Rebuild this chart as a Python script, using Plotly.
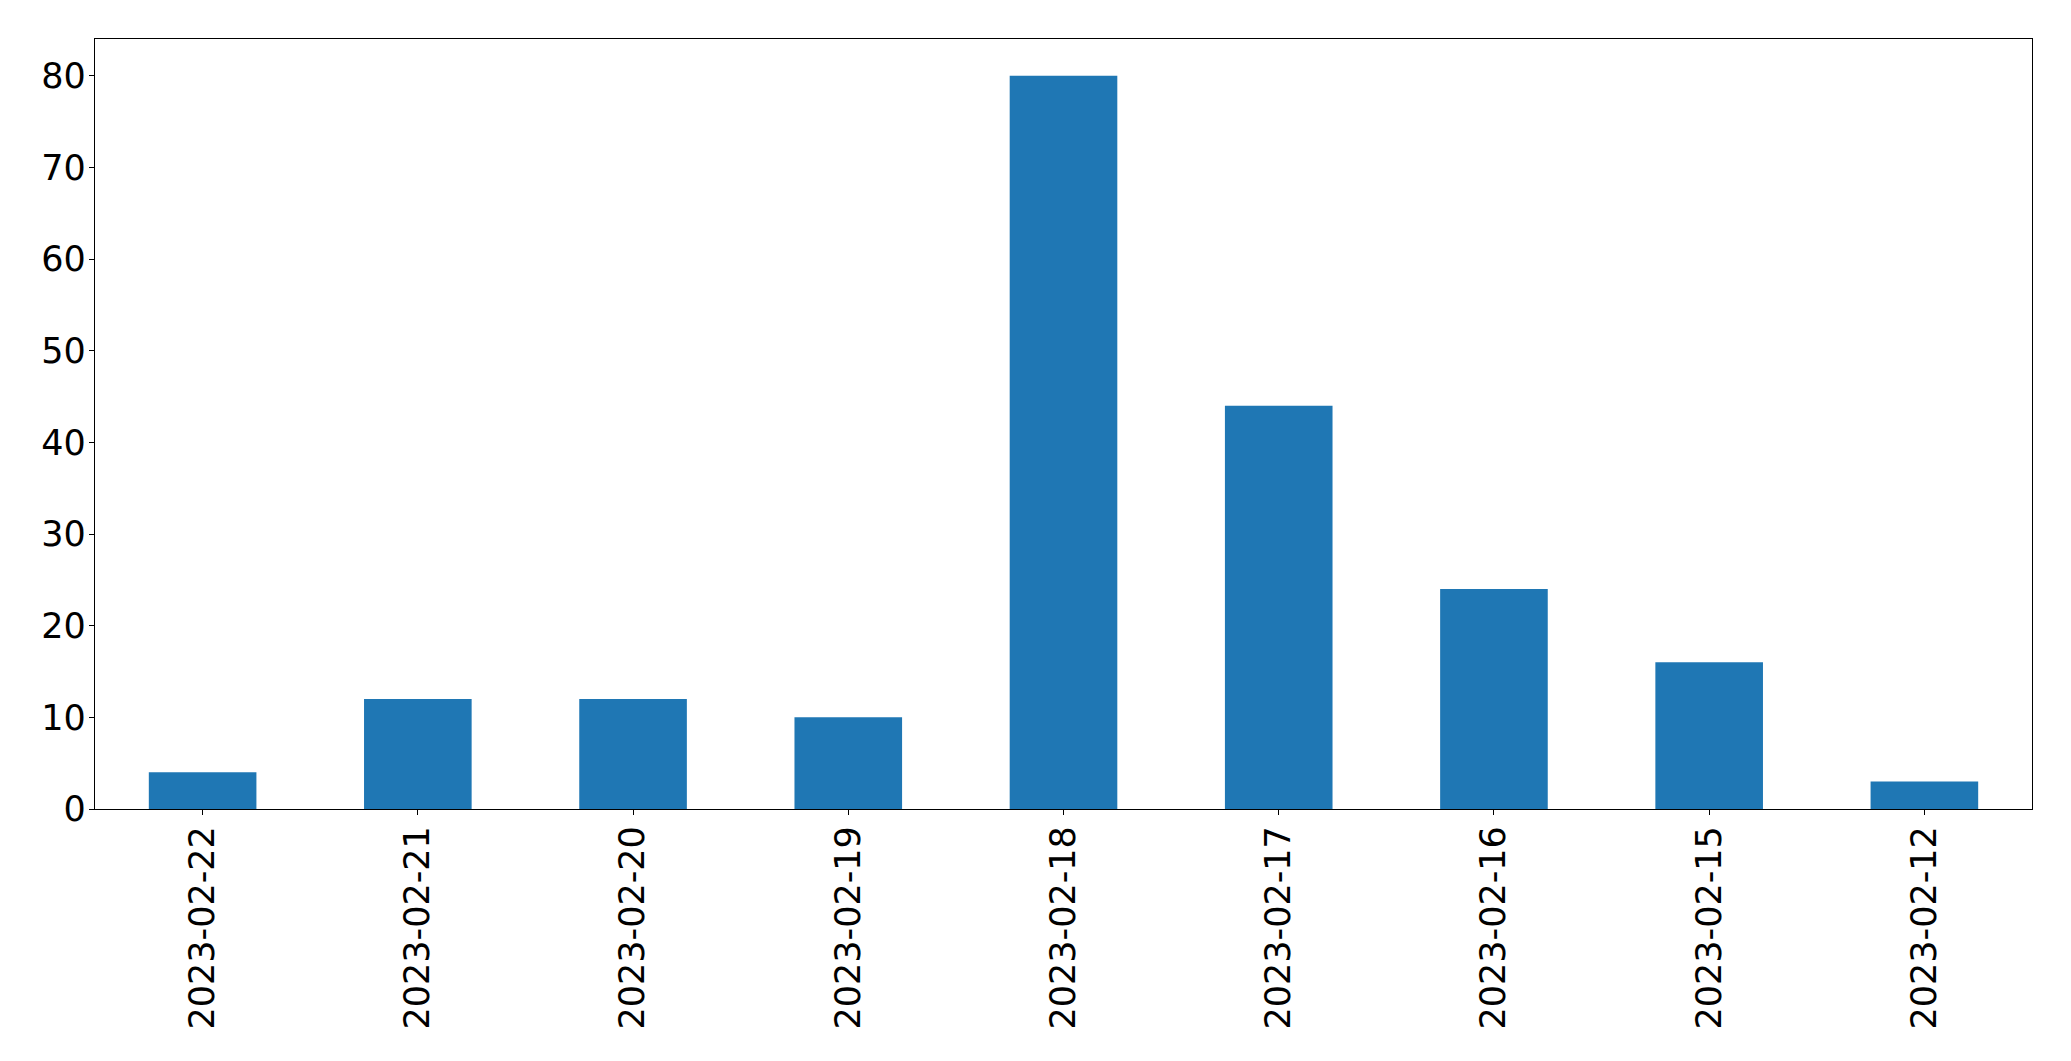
import plotly.graph_objects as go

dates = ["2023-02-22", "2023-02-21", "2023-02-20", "2023-02-19", "2023-02-18",
         "2023-02-17", "2023-02-16", "2023-02-15", "2023-02-12"]
counts = [4, 12, 12, 10, 80, 44, 24, 16, 3]
y_ticks = [0, 10, 20, 30, 40, 50, 60, 70, 80]

fig = go.Figure(go.Bar(x=dates, y=counts, marker_color="#1f77b4", marker_line_width=0, width=0.5))

font = dict(family="DejaVu Sans", size=35, color="black")
fig.update_layout(
    width=2071, height=1061,
    margin=dict(l=87, r=47, t=31, b=260, autoexpand=False),
    plot_bgcolor="white", paper_bgcolor="white",
    showlegend=False,
    font=font,
)
fig.update_xaxes(type="category", range=[-0.5, 8.5], tickangle=-90,
                 showline=True, mirror=True, linecolor="black", linewidth=1.3,
                 ticks="outside", ticklen=5, tickcolor="black", tickwidth=1.3,
                 ticklabelstandoff=-3,
                 showgrid=False, tickfont=font)
fig.update_yaxes(range=[0, 84], tickvals=y_ticks,
                 showline=True, mirror=True, linecolor="black", linewidth=1.3,
                 ticks="outside", ticklen=5, tickcolor="black", tickwidth=1.3,
                 ticklabelstandoff=-4,
                 showgrid=False, zeroline=False, tickfont=font)

fig.write_html("out.html")
